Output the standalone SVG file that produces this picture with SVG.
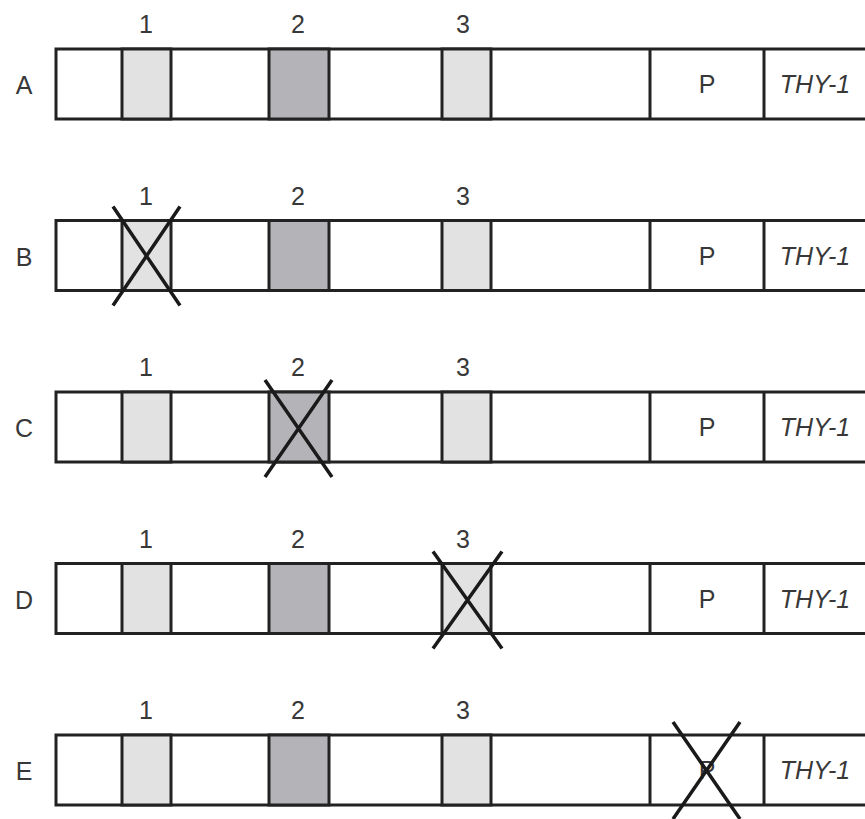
<svg xmlns="http://www.w3.org/2000/svg" width="865" height="819" viewBox="0 0 865 819">
<defs>
<style>
.bg{fill:#ffffff}
.box{fill:#ffffff;stroke:#222;stroke-width:3}
.l{fill:#e2e2e2;stroke:#222;stroke-width:3}
.d{fill:#b4b4b8;stroke:#222;stroke-width:3}
.t{font-family:"Liberation Sans",Arial,sans-serif;font-size:25px;fill:#383838;text-anchor:middle}
.i{font-style:italic}
.x{stroke:#1a1a1a;stroke-width:3.5;stroke-linecap:butt}
</style>
<g id="row">
<rect class="box" x="56" y="0" width="840" height="70"/>
<rect class="l" x="122" y="0" width="49" height="70"/>
<rect class="d" x="269" y="0" width="60" height="70"/>
<rect class="l" x="442" y="0" width="49" height="70"/>
<line class="box" x1="650" y1="0" x2="650" y2="70"/>
<line class="box" x1="764" y1="0" x2="764" y2="70"/>
<text class="t" x="146" y="-16">1</text>
<text class="t" x="298" y="-16">2</text>
<text class="t" x="463" y="-16">3</text>
<text class="t i" x="815" y="44">THY-1</text>
<text class="t" x="707" y="44">P</text>
</g>
</defs>
<rect class="bg" x="0" y="0" width="865" height="819"/>
<g id="rowA" transform="translate(0,49)">
<use href="#row"/>
<text class="t" x="24" y="45">A</text>
</g>
<g id="rowB" transform="translate(0,220.5)">
<use href="#row"/>
<text class="t" x="24" y="45">B</text>
<path class="x" d="M113,-14 L180,85 M180,-14 L113,85"/>
</g>
<g id="rowC" transform="translate(0,392)">
<use href="#row"/>
<text class="t" x="24" y="45">C</text>
<path class="x" d="M265,-12 L332,85 M332,-12 L265,85"/>
</g>
<g id="rowD" transform="translate(0,563.5)">
<use href="#row"/>
<text class="t" x="24" y="45">D</text>
<path class="x" d="M433,-12 L502,85 M502,-12 L433,85"/>
</g>
<g id="rowE" transform="translate(0,735)">
<use href="#row"/>
<text class="t" x="24" y="45">E</text>
<path class="x" d="M673,-13 L740,84 M740,-13 L673,84"/>
</g>
</svg>
